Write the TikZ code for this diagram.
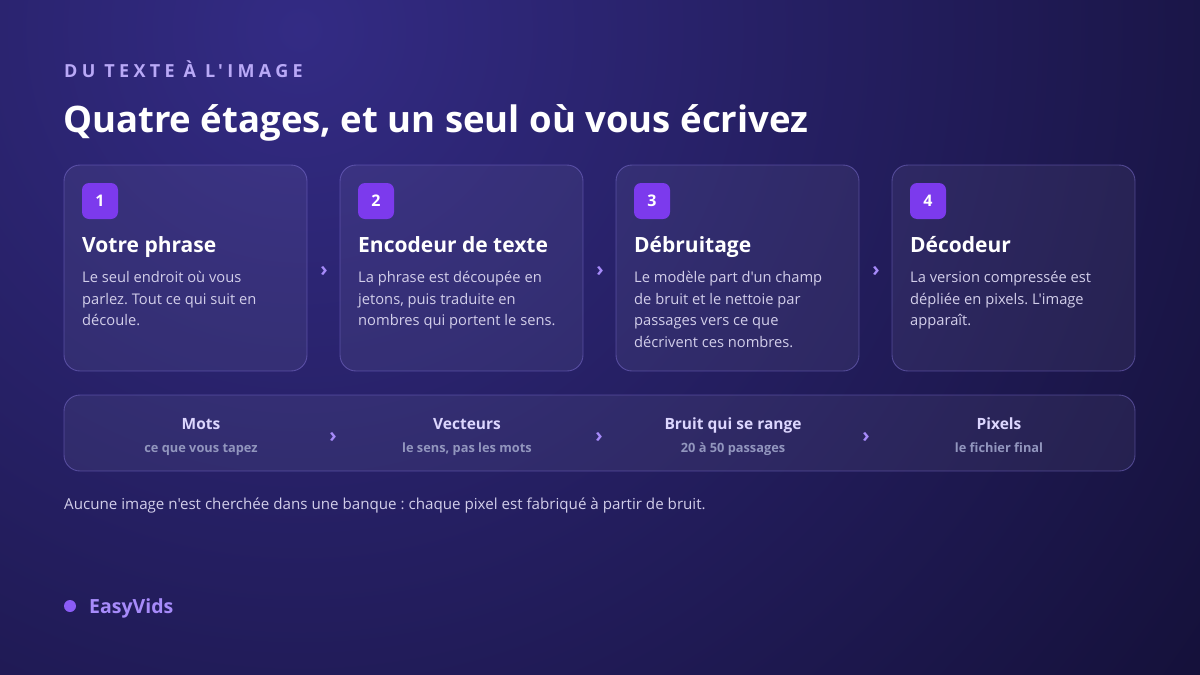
\documentclass[tikz,border=0pt]{standalone}
\usepackage{fontspec}
\setmainfont{Open Sans}[Ligatures=TeXOff]
\frenchspacing
\definecolor{bgA}{HTML}{332B84}
\definecolor{bgB}{HTML}{0E0B2A}
\definecolor{badge}{HTML}{7C3AED}
\definecolor{accent}{HTML}{A78BFA}
\definecolor{kicker}{HTML}{B9A9F7}
\definecolor{bodytxt}{HTML}{D2CEEA}
\definecolor{subtxt}{HTML}{9296BE}
\definecolor{striptitle}{HTML}{DCD6FE}
\definecolor{cardline}{HTML}{8A7BE0}
\definecolor{dotc}{HTML}{8B5CF6}
\tikzset{
  card/.style={rounded corners=16pt, fill=white, fill opacity=0.055, draw=cardline, draw opacity=0.45, line width=0.9pt},
  badgebox/.style={rounded corners=7pt, fill=badge, minimum width=36pt, minimum height=36pt, inner sep=0pt, text=white, font=\fontsize{16}{16}\selectfont\bfseries},
  headtxt/.style={anchor=base west, inner sep=0pt, text=white, font=\fontsize{21}{22}\selectfont\bfseries},
  bodytext/.style={anchor=north west, inner sep=0pt, text=bodytxt, align=left, font=\fontsize{14.7}{21.7}\selectfont},
  chev/.style={inner sep=0pt, text=accent, font=\fontsize{20}{20}\selectfont\bfseries},
  sttl/.style={anchor=base, inner sep=0pt, text=striptitle, font=\fontsize{15.5}{16}\selectfont\bfseries},
  ssub/.style={anchor=base, inner sep=0pt, text=subtxt, font=\fontsize{12.8}{13}\selectfont\bfseries},
}
\begin{document}
\begin{tikzpicture}[x=1pt,y=-1pt]
\useasboundingbox (0,0) rectangle (1200,675);
\begin{scope}
\clip (0,0) rectangle (1200,675);
\fill[bgB] (0,0) rectangle (1200,675);
\shade[inner color=bgA, outer color=bgB] (300,30) circle (1350);
\end{scope}
% header
\node[anchor=base west, inner sep=0pt, text=kicker, font=\fontsize{18}{18}\selectfont\bfseries\addfontfeature{LetterSpace=24}] (kick) at (64,77) {DU TEXTE À L'IMAGE};
\node[anchor=base west, inner sep=0pt, text=white, font=\fontsize{36.5}{40}\selectfont\bfseries] (title) at (63,132) {Quatre étages, et un seul où vous écrivez};
% cards
\foreach \i/\x in {1/64,2/340,3/616,4/892}{
  \draw[card] (\x,165) rectangle ++(243,206);
  \node[badgebox] (b\i) at (\x+36,201) {\i};
}
\node[headtxt] (h1) at (82,252) {Votre phrase};
\node[headtxt] (h2) at (358,252) {Encodeur de texte};
\node[headtxt] (h3) at (634,252) {Débruitage};
\node[headtxt] (h4) at (910,252) {Décodeur};
\node[bodytext] (t1) at (82,271) {Le seul endroit où vous\\parlez. Tout ce qui suit en\\découle.};
\node[bodytext] (t2) at (358,271) {La phrase est découpée en\\jetons, puis traduite en\\nombres qui portent le sens.};
\node[bodytext] (t3) at (634,271) {Le modèle part d'un champ\\de bruit et le nettoie par\\passages vers ce que\\décrivent ces nombres.};
\node[bodytext] (t4) at (910,271) {La version compressée est\\dépliée en pixels. L'image\\apparaît.};
\node[chev] (c1) at (324,271) {›};
\node[chev] (c2) at (600,271) {›};
\node[chev] (c3) at (876,271) {›};
% strip
\draw[card] (64,395) rectangle (1135,471);
\node[sttl] (s1) at (201,429) {Mots};
\node[ssub] (u1) at (201,452) {ce que vous tapez};
\node[sttl] (s2) at (467,429) {Vecteurs};
\node[ssub] (u2) at (467,452) {le sens, pas les mots};
\node[sttl] (s3) at (733,429) {Bruit qui se range};
\node[ssub] (u3) at (733,452) {20 à 50 passages};
\node[sttl] (s4) at (999,429) {Pixels};
\node[ssub] (u4) at (999,452) {le fichier final};
\node[chev] (d1) at (333,437) {›};
\node[chev] (d2) at (599,437) {›};
\node[chev] (d3) at (866,437) {›};
% note
\node[anchor=base west, inner sep=0pt, text=bodytxt, font=\fontsize{15.15}{16}\selectfont] (note) at (64,509) {Aucune image n'est cherchée dans une banque : chaque pixel est fabriqué à partir de bruit.};
% brand
\fill[dotc] (70,606) circle (6);
\node[anchor=base west, inner sep=0pt, text=accent, font=\fontsize{19.5}{20}\selectfont\bfseries] (brand) at (89,613) {EasyVids};
\end{tikzpicture}
\end{document}
